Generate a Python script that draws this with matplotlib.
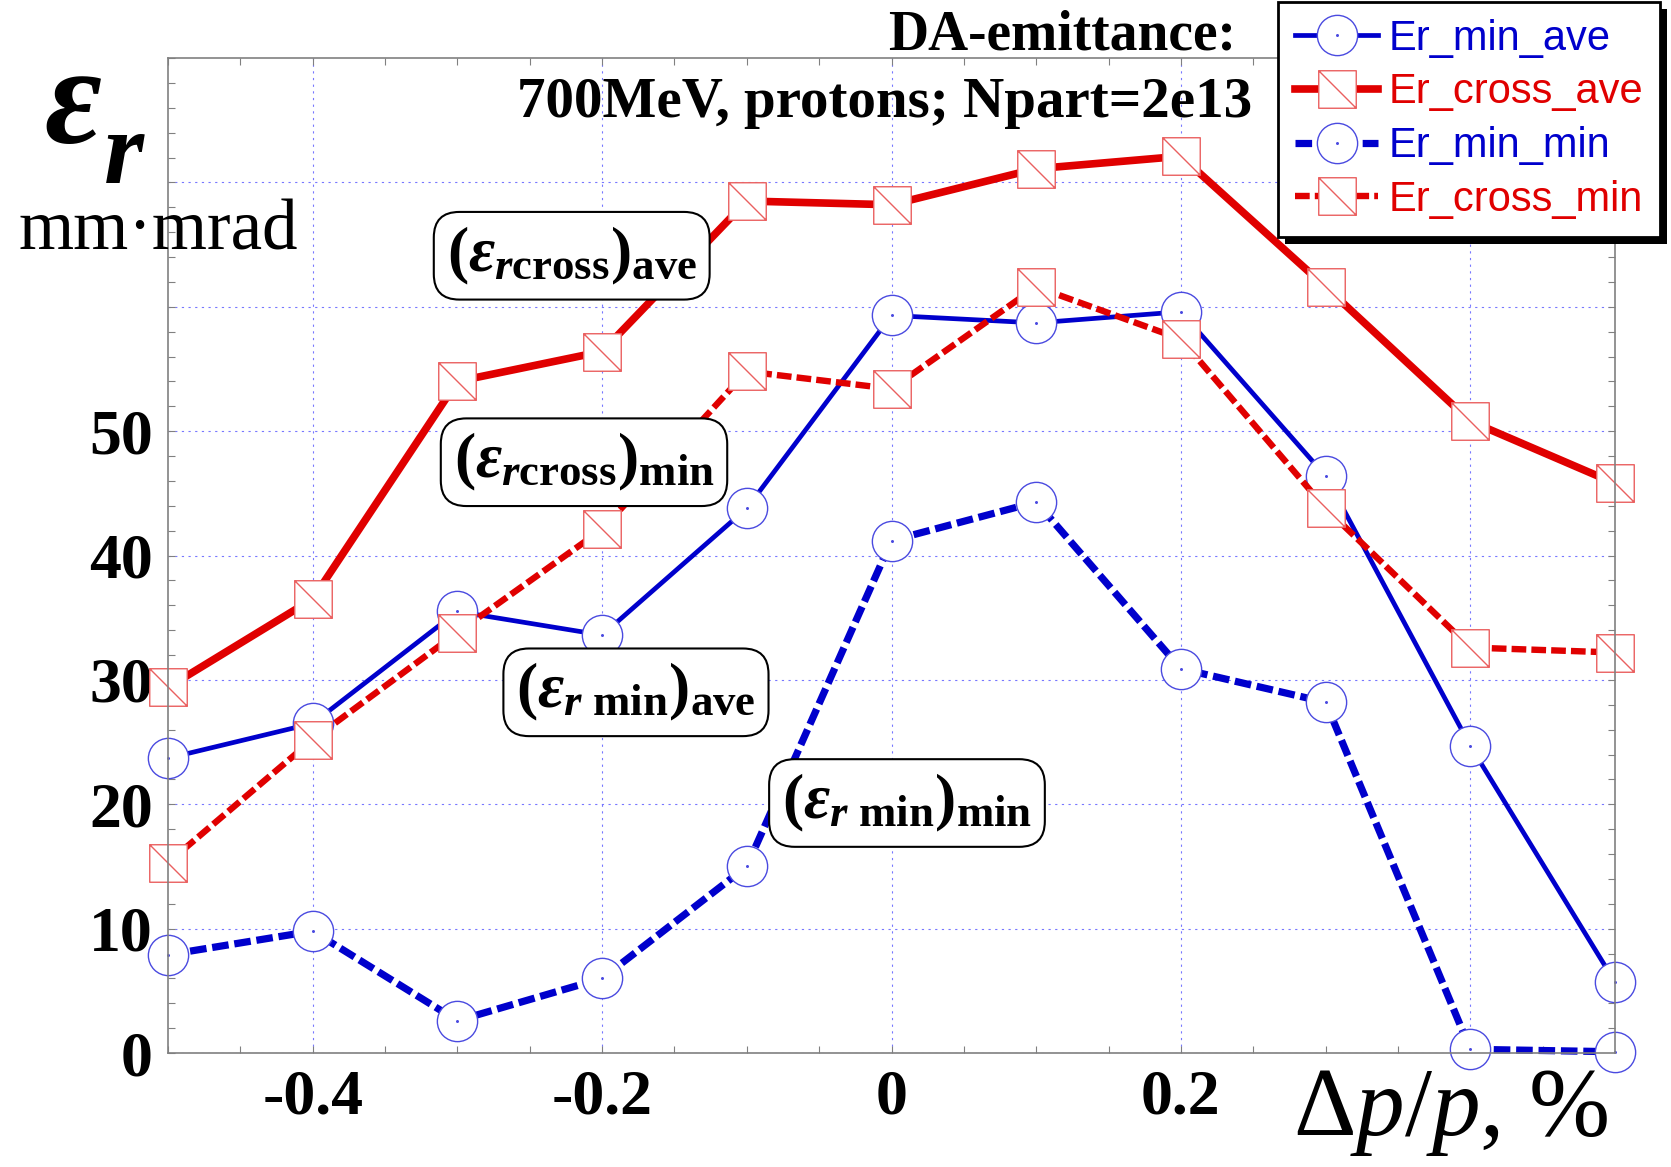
# DA-emittance vs momentum deviation, 700 MeV protons

import numpy as np
import matplotlib.pyplot as plt
from matplotlib.path import Path
import matplotlib.patheffects as pe

plt.rcParams['mathtext.fontset'] = 'custom'
plt.rcParams['mathtext.rm'] = 'Liberation Serif'
plt.rcParams['mathtext.it'] = 'Liberation Serif:italic:bold'
plt.rcParams['mathtext.bf'] = 'Liberation Serif:bold'
plt.rcParams['mathtext.sf'] = 'Liberation Serif:italic'

# data
dp = [-0.5, -0.4, -0.3, -0.2, -0.1, 0.0, 0.1, 0.2, 0.3, 0.4, 0.5]
er_min_ave = [23.7, 26.5, 35.5, 33.6, 43.8, 59.3, 58.7, 59.6, 46.4, 24.7, 5.7]
er_cross_ave = [29.4, 36.5, 54.0, 56.4, 68.5, 68.2, 71.1, 72.1, 61.6, 50.8, 45.8]
er_min_min = [7.9, 9.8, 2.6, 6.0, 15.0, 41.2, 44.3, 30.9, 28.2, 0.3, 0.1]
er_cross_min = [15.3, 25.2, 33.8, 42.1, 54.8, 53.4, 61.6, 57.4, 43.8, 32.6, 32.2]

yticks = [0, 10, 20, 30, 40, 50, 60, 70]
ytick_labels = ['0', '10', '20', '30', '40', '50', '', '']
xticks = [-0.4, -0.2, 0.0, 0.2, 0.4]
xtick_labels = ['-0.4', '-0.2', '0', '0.2', '']

W, H = 1671, 1167
BLUE = '#0000cc'
RED = '#e00000'

# markers: circle with a center dot, square with a diagonal
circ = Path.make_compound_path(Path.unit_circle(), Path.circle((0, 0), 0.04))
sq = Path([(-1, -1), (1, -1), (1, 1), (-1, 1), (-1, -1), (-1, 1), (1, -1)],
          [Path.MOVETO, Path.LINETO, Path.LINETO, Path.LINETO, Path.CLOSEPOLY,
           Path.MOVETO, Path.LINETO])

fig = plt.figure(figsize=(W / 100, H / 100), dpi=100)
ax = fig.add_axes([168 / W, 1 - 1053 / H, (1615 - 168) / W, (1053 - 58) / H])

dash = (0, (2.3, 0.8))
l1, = ax.plot(dp, er_min_ave, color=BLUE, lw=3.4, marker=circ, ms=29,
              mfc='white', mec='#4a4ae0', mew=1.0, label='Er_min_ave')
l2, = ax.plot(dp, er_cross_ave, color=RED, lw=5.5, marker=sq, ms=27,
              mfc='white', mec='#ea6060', mew=1.0, label='Er_cross_ave')
l3, = ax.plot(dp, er_min_min, color=BLUE, lw=5.2, ls=dash, marker=circ, ms=29,
              mfc='white', mec='#4a4ae0', mew=1.0, label='Er_min_min')
l4, = ax.plot(dp, er_cross_min, color=RED, lw=4.6, ls=dash, marker=sq, ms=27,
              mfc='white', mec='#ea6060', mew=1.0, label='Er_cross_min')
for ln in (l1, l2, l3, l4):
    ln.set_clip_on(False)

ax.set_xlim(-0.5, 0.5)
ax.set_ylim(0, 80)
ax.set_xticks(xticks)
ax.set_xticklabels(xtick_labels)
ax.set_xticks(np.arange(-0.5, 0.51, 0.05), minor=True)
ax.set_yticks(yticks)
ax.set_yticklabels(ytick_labels)
ax.set_yticks(np.arange(0, 81, 2), minor=True)
ax.tick_params(which='both', direction='in', top=True, right=True,
               length=5, width=0.8, color='#808080')
ax.tick_params(axis='y', pad=11)
ax.tick_params(axis='x', pad=12)
for lab in ax.get_xticklabels():
    lab.set(family='Liberation Serif', weight='bold', size=46)
for lab in ax.get_yticklabels():
    lab.set(family='Liberation Serif', weight='bold', size=46)
for sp in ax.spines.values():
    sp.set_color('#808080')
    sp.set_linewidth(1.2)
ax.grid(True, which='major', color='#7777ff', ls=(0, (2, 4)), lw=0.8)
ax.set_axisbelow(True)

# curve labels in rounded boxes
box = dict(boxstyle='round,pad=0.2,rounding_size=0.4', fc='white', ec='black', lw=1.5)
ax.text(-0.221, 64.1, r'$\mathbf{(}\varepsilon_{r\mathbf{cross}}\mathbf{)}_{\mathbf{ave}}$',
        fontsize=46, ha='center', va='center', bbox=box, zorder=5)
ax.text(-0.2125, 47.5, r'$\mathbf{(}\varepsilon_{r\mathbf{cross}}\mathbf{)}_{\mathbf{min}}$',
        fontsize=46, ha='center', va='center', bbox=box, zorder=5)
ax.text(-0.1766, 29.0, r'$\mathbf{(}\varepsilon_{r\ \mathbf{min}}\mathbf{)}_{\mathbf{ave}}$',
        fontsize=46, ha='center', va='center', bbox=box, zorder=5)
ax.text(0.0107, 20.1, r'$\mathbf{(}\varepsilon_{r\ \mathbf{min}}\mathbf{)}_{\mathbf{min}}$',
        fontsize=46, ha='center', va='center', bbox=box, zorder=5)

# axis labels
fig.text(73 / W, 1 - 143 / H, 'ε', family='Liberation Serif', style='italic',
         weight='bold', fontsize=100, ha='center', va='baseline')
fig.text(124 / W, 1 - 183 / H, 'r', family='Liberation Serif', style='italic',
         weight='bold', fontsize=74, ha='center', va='baseline')
fig.text(158 / W, 1 - 249 / H, 'mm·mrad', family='Liberation Serif',
         fontsize=51, ha='center', va='baseline')
fig.text(1293 / W, 1 - 1135 / H, r'$\Delta\mathsf{p}/\mathsf{p}$, %',
         family='Liberation Serif', fontsize=70, ha='left', va='baseline')

# title lines
fig.text(1236 / W, 1 - 50 / H, 'DA-emittance:', family='Liberation Serif',
         weight='bold', fontsize=40, ha='right', va='baseline')
fig.text(1252 / W, 1 - 117 / H, '700MeV, protons; Npart=2e13', family='Liberation Serif',
         weight='bold', fontsize=41, ha='right', va='baseline')

leg = fig.legend(handles=[l1, l2, l3, l4], loc='upper right',
                 bbox_to_anchor=(1660 / W, 1 - 2 / H), bbox_transform=fig.transFigure,
                 prop={'family': 'Liberation Sans', 'size': 30}, labelcolor='linecolor',
                 handlelength=2.0, handletextpad=0.25, borderpad=0.4,
                 labelspacing=0.33, fancybox=False, framealpha=1, borderaxespad=0)
leg.get_frame().set_edgecolor('black')
leg.get_frame().set_linewidth(2)
leg.get_frame().set_path_effects([pe.SimplePatchShadow(offset=(5, -5), shadow_rgbFace='black', alpha=1),
                                  pe.Normal()])

fig.savefig('out.png', dpi=100)
